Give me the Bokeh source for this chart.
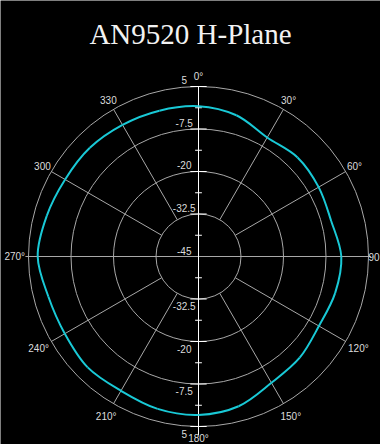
import numpy as np
from bokeh.plotting import figure
from bokeh.models import Range1d
from bokeh.embed import file_html
from bokeh.resources import INLINE
from bokeh.core.properties import value

# ---------------- data ----------------
title_text = "AN9520 H-Plane"
angles_deg = [0, 15, 30, 45, 60, 75, 90, 105, 120, 135, 150, 165,
              180, 195, 210, 225, 240, 255, 270, 285, 300, 315, 330, 345]
gain_db = [-0.8, -2.0, -4.6, -3.8, -4.2, -4.6, -3.0, -3.4, -4.1, -2.9, -2.1, 0.6,
           1.6, 1.4, 0.6, 1.1, 0.4, 0.7, 2.3, 1.2, 0.3, 0.2, -0.3, -0.6]
ring_db = [5, -7.5, -20, -32.5]
ring_labels = ["5", "-7.5", "-20", "-32.5"]
center_db = -45
center_label = "-45"
spoke_angles = [0, 30, 60, 90, 120, 150, 180, 210, 240, 270, 300, 330]
spoke_labels = ["0°", "30°", "60°", "90", "120°", "150°", "180°",
                "210°", "240°", "270°", "300", "330"]

# ---------------- geometry ----------------
PX = 3.4           # pixels per dB
CX, CY = 198, 256  # pixel centre of polar plot
W, H = 380, 444

def rad(db):
    return db - center_db

R_OUT = rad(max(ring_db))

p = figure(width=W, height=H,
           x_range=Range1d(-CX / PX, (W - CX) / PX),
           y_range=Range1d(-(H - CY) / PX, CY / PX),
           x_axis_type=None, y_axis_type=None,
           output_backend="svg", toolbar_location=None,
           min_border=0, background_fill_color="black",
           border_fill_color="black", outline_line_color=None)

grid_col = "#a8a8a8"
lab_col = "#dcdcdc"

# rings
p.circle(x=[0] * len(ring_db), y=[0] * len(ring_db),
         radius=[rad(d) for d in ring_db],
         fill_color=None, line_color=grid_col, line_width=1)

# spokes (diagonal ones start at innermost ring)
r_in = rad(min(ring_db))
xs, ys = [], []
for a in spoke_angles:
    if a % 90 == 0:
        continue
    t = np.radians(a)
    xs.append([r_in * np.sin(t), R_OUT * np.sin(t)])
    ys.append([r_in * np.cos(t), R_OUT * np.cos(t)])
p.multi_line(xs=xs, ys=ys, line_color=grid_col, line_width=1)

# horizontal axis line
p.line(x=[-(R_OUT + 0.9), R_OUT + 0.7], y=[0, 0], line_color=grid_col, line_width=1)
# vertical axis line
p.line(x=[0, 0], y=[R_OUT, -(R_OUT + 2.5)], line_color="white", line_width=1)

# ticks on vertical axis
tx, ty = [], []
for d in ring_db:
    r = rad(d)
    for s in (1, -1):
        tx.append([-2.4, 2.4]); ty.append([s * r, s * r])
mids = [(ring_db[i] + ring_db[i + 1]) / 2 for i in range(len(ring_db) - 1)] + [(ring_db[-1] + center_db) / 2]
for d in mids:
    r = rad(d)
    for s in (1, -1):
        tx.append([-1.0, 1.0]); ty.append([s * r, s * r])
p.multi_line(xs=tx, ys=ty, line_color="white", line_width=1)

# pattern curve: smooth closed curve through the measured points (Catmull-Rom -> Bezier)
th = np.radians(np.array(angles_deg, dtype=float))
rr = np.array([rad(g) for g in gain_db])
px_ = rr * np.sin(th)
py_ = rr * np.cos(th)
n = len(px_)
x0, y0, x1, y1, cx0, cy0, cx1, cy1 = [], [], [], [], [], [], [], []
for i in range(n):
    a0 = (i - 1) % n; a1 = i; a2 = (i + 1) % n; a3 = (i + 2) % n
    x0.append(px_[a1]); y0.append(py_[a1])
    x1.append(px_[a2]); y1.append(py_[a2])
    cx0.append(px_[a1] + (px_[a2] - px_[a0]) / 6); cy0.append(py_[a1] + (py_[a2] - py_[a0]) / 6)
    cx1.append(px_[a2] - (px_[a3] - px_[a1]) / 6); cy1.append(py_[a2] - (py_[a3] - py_[a1]) / 6)
p.bezier(x0=x0, y0=y0, x1=x1, y1=y1, cx0=cx0, cy0=cy0, cx1=cx1, cy1=cy1,
         line_color="#19c9d6", line_width=2)

# ring value labels
font = value("Liberation Sans")
p.text(x=[-4.2] * len(ring_db), y=[rad(d) + 0.7 for d in ring_db], text=ring_labels,
       text_font=font, text_font_size="10px", text_color=lab_col,
       text_align="center", text_baseline="bottom")
p.text(x=[-4.2] * len(ring_db), y=[-rad(d) - 0.9 for d in ring_db], text=ring_labels,
       text_font=font, text_font_size="10px", text_color=lab_col,
       text_align="center", text_baseline="top")
p.text(x=[-4.2], y=[0.3], text=[center_label],
       text_font=font, text_font_size="10px", text_color=lab_col,
       text_align="center", text_baseline="bottom")

# angle labels
lx, ly, lt, la, lb = [], [], [], [], []
for a, s in zip(spoke_angles, spoke_labels):
    t = np.radians(a)
    if a == 90:
        lx.append((W - CX - 1) / PX); ly.append(0); la.append("right"); lb.append("middle")
    elif a == 270:
        lx.append(-(R_OUT + 1.0)); ly.append(0); la.append("right"); lb.append("middle")
    elif a == 180:
        lx.append(0); ly.append(-(H - CY - 1) / PX); la.append("center"); lb.append("bottom")
    else:
        rl = 53.0 if np.cos(t) > 0.01 else 54.3
        lx.append(rl * np.sin(t)); ly.append(rl * np.cos(t)); la.append("center"); lb.append("middle")
    lt.append(s)
p.text(x=lx, y=ly, text=lt, text_align=la, text_baseline=lb,
       text_font=font, text_font_size="10px", text_color=lab_col)

# title
p.text(x=[(190 - CX) / PX], y=[(CY - 33) / PX], text=[title_text],
       text_font=value("Liberation Serif"), text_font_size="29px",
       text_color="#f2f2f2", text_align="center", text_baseline="alphabetic")

open("out.html", "w").write(file_html(p, INLINE))
